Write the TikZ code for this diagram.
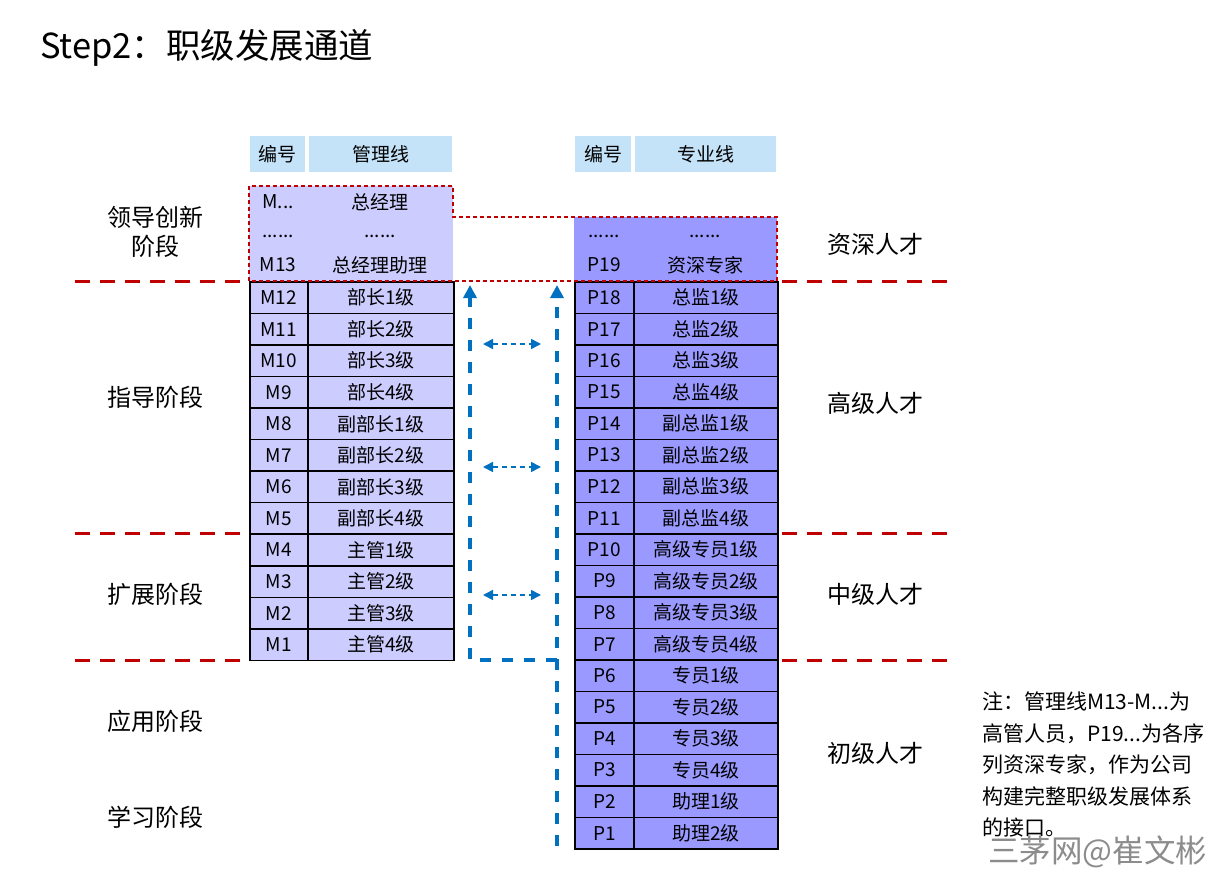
\documentclass[tikz,border=0pt]{standalone}
\usepackage{fontspec}
\setmainfont{Noto Sans CJK SC}
\usetikzlibrary{arrows.meta}
\definecolor{hdr}{HTML}{C5E3F8}
\definecolor{mfill}{HTML}{CCCCFF}
\definecolor{pfill}{HTML}{9999FF}
\definecolor{dred}{HTML}{C00000}
\definecolor{dblue}{HTML}{0070C0}
\tikzset{
  cellbase/.style={draw=black, line width=1.6pt, anchor=north west, minimum height=31.55pt, inner sep=0pt, font=\fontsize{19}{22}\selectfont},
  mcell/.style={cellbase, fill=mfill},
  pcell/.style={cellbase, fill=pfill},
  hdrcell/.style={fill=hdr, anchor=north west, minimum height=36pt, inner sep=0pt, font=\fontsize{19}{22}\selectfont},
  toptext/.style={inner sep=0pt, font=\fontsize{19}{22}\selectfont},
  stagelabel/.style={inner sep=0pt, align=center, font=\fontsize{24}{29}\selectfont},
  sepline/.style={draw=dred, line width=3pt, dash pattern=on 15pt off 10pt},
  groupline/.style={draw=dred, line width=1.5pt, dash pattern=on 4pt off 3pt},
  pathline/.style={draw=dblue, line width=3.3pt, dash pattern=on 11pt off 11pt, -{Triangle[length=13pt,width=13pt]}},
  swapline/.style={draw=dblue, line width=1.6pt, dash pattern=on 5pt off 4pt, {Triangle[length=10pt,width=10pt]}-{Triangle[length=10pt,width=10pt]}}
}
\begin{document}
\begin{tikzpicture}[x=1pt,y=-1pt]
\useasboundingbox (0,0) rectangle (1219,891);
\fill[white] (0,0) rectangle (1219,891);

% title
\node[anchor=west, inner sep=0pt, font=\fontsize{34.5}{40}\selectfont] (title) at (40,48) {Step2：职级发展通道};

% headers
\node[hdrcell, minimum width=55pt] (mh1) at (250,136) {编号};
\node[hdrcell, minimum width=143pt] (mh2) at (309,136) {管理线};
\node[hdrcell, minimum width=56pt] (ph1) at (575,136) {编号};
\node[hdrcell, minimum width=141pt] (ph2) at (635,136) {专业线};

% top groups
\fill[mfill] (249,186) rectangle (453,281);
\fill[pfill] (574,217) rectangle (777,281);
\node[toptext] (mt1a) at (278,202) {M...};
\node[toptext] (mt1b) at (380,202) {总经理};
\node[toptext] (mt2a) at (278,236) {......};
\node[toptext] (mt2b) at (380,236) {......};
\node[toptext] (mt3a) at (278,265) {M13};
\node[toptext] (mt3b) at (380,265) {总经理助理};
\node[toptext] (pt2a) at (604,236) {......};
\node[toptext] (pt2b) at (705,236) {......};
\node[toptext] (pt3a) at (604,265) {P19};
\node[toptext] (pt3b) at (705,265) {资深专家};

% management rows
\foreach \c/\n [count=\i] in {M12/部长1级,M11/部长2级,M10/部长3级,M9/部长4级,M8/副部长1级,M7/副部长2级,M6/副部长3级,M5/副部长4级,M4/主管1级,M3/主管2级,M2/主管3级,M1/主管4级}{
  \node[mcell, minimum width=58pt] (mc\i) at (249,{281+(\i-1)*31.55}) {\c};
  \node[mcell, minimum width=146pt] (mn\i) at (307,{281+(\i-1)*31.55}) {\n};
}
% professional rows
\foreach \c/\n [count=\i] in {P18/总监1级,P17/总监2级,P16/总监3级,P15/总监4级,P14/副总监1级,P13/副总监2级,P12/副总监3级,P11/副总监4级,P10/高级专员1级,P9/高级专员2级,P8/高级专员3级,P7/高级专员4级,P6/专员1级,P5/专员2级,P4/专员3级,P3/专员4级,P2/助理1级,P1/助理2级}{
  \node[pcell, minimum width=59pt] (pc\i) at (574,{281+(\i-1)*31.5}) {\c};
  \node[pcell, minimum width=144pt] (pn\i) at (633,{281+(\i-1)*31.5}) {\n};
}

% group dashed border
\draw[groupline] (249,281) -- (249,186) -- (453,186) -- (453,217) -- (777,217) -- (777,281) -- cycle;

% stage separators
\coordinate (s1a) at (75,281); \coordinate (s1b) at (245,281);
\coordinate (s1c) at (782,281); \coordinate (s1d) at (952,281);
\coordinate (s2a) at (75,533); \coordinate (s2b) at (245,533);
\coordinate (s2c) at (782,533); \coordinate (s2d) at (952,533);
\coordinate (s3a) at (75,660); \coordinate (s3b) at (245,660);
\coordinate (s3c) at (782,660); \coordinate (s3d) at (952,660);
\draw[sepline] (s1a) -- (s1b); \draw[sepline] (s1c) -- (s1d);
\draw[sepline] (s2a) -- (s2b); \draw[sepline] (s2c) -- (s2d);
\draw[sepline] (s3a) -- (s3b); \draw[sepline] (s3c) -- (s3d);

% stage labels
\node[stagelabel] (st1) at (155,232) {领导创新\\阶段};
\node[stagelabel] (st2) at (155,397) {指导阶段};
\node[stagelabel] (st3) at (155,594) {扩展阶段};
\node[stagelabel] (st4) at (155,721) {应用阶段};
\node[stagelabel] (st5) at (155,817) {学习阶段};
\node[stagelabel] (lv1) at (875,244) {资深人才};
\node[stagelabel] (lv2) at (875,403) {高级人才};
\node[stagelabel] (lv3) at (875,594) {中级人才};
\node[stagelabel] (lv4) at (875,753) {初级人才};

% blue career paths
\coordinate (bl1) at (557,660);
\coordinate (bl2) at (470,660);
\coordinate (bl3) at (470,285);
\coordinate (br1) at (557,846);
\coordinate (br2) at (557,285);
\draw[pathline] (bl1) -- (bl2) -- (bl3);
\draw[pathline] (br1) -- (br2);
\coordinate (h1a) at (483,344); \coordinate (h1b) at (541,344);
\coordinate (h2a) at (483,467); \coordinate (h2b) at (541,467);
\coordinate (h3a) at (483,595); \coordinate (h3b) at (541,595);
\draw[swapline] (h1a) -- (h1b);
\draw[swapline] (h2a) -- (h2b);
\draw[swapline] (h3a) -- (h3b);

% note
\node[anchor=north west, inner sep=0pt, align=left, font=\fontsize{21}{31.4}\selectfont] (note) at (982,692) {注：管理线M13-M...为\\高管人员，P19...为各序\\列资深专家，作为公司\\构建完整职级发展体系\\的接口。};

% watermark
\node[anchor=west, inner sep=0pt, text=black!45, font=\fontsize{31.5}{36}\selectfont] (wm) at (988,852) {三茅网@崔文彬};
\end{tikzpicture}
\end{document}
